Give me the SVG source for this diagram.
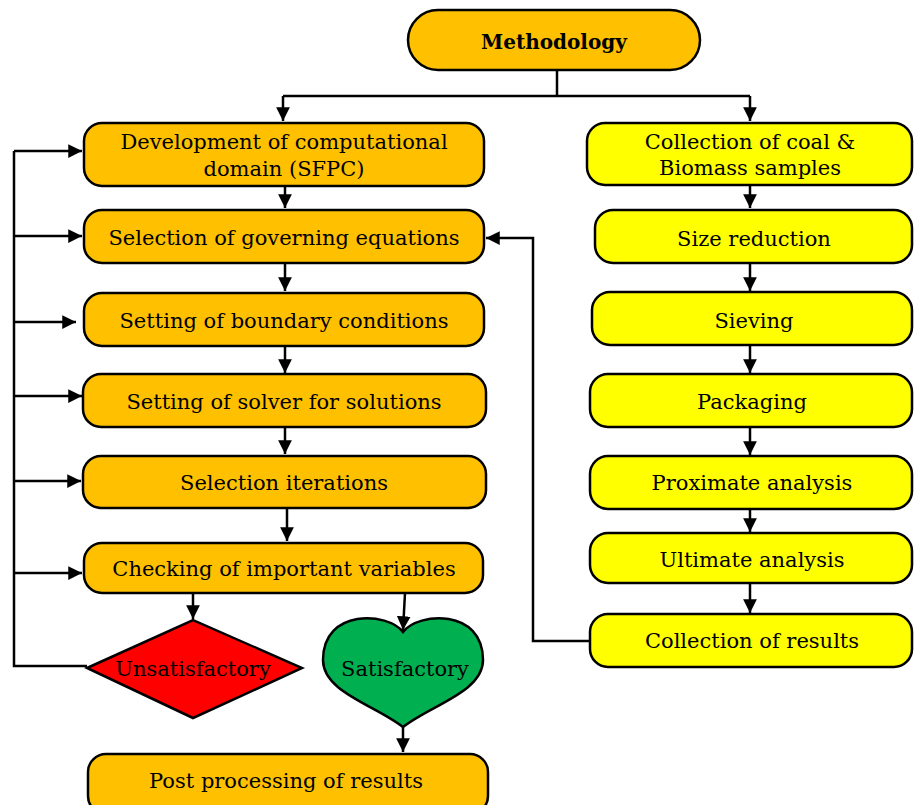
<svg xmlns="http://www.w3.org/2000/svg" width="914" height="805" viewBox="0 0 914 805">
<defs>
<marker id="ah" viewBox="0 0 10 10" refX="10" refY="5" markerWidth="5.5" markerHeight="5.5" orient="auto" markerUnits="strokeWidth">
<path d="M0,0 L10,5 L0,10 Z" fill="#000"/>
</marker>
<style>
.box{stroke:#000;stroke-width:2.5}
.o{fill:#FFC000}
.y{fill:#FFFF00}
.t{font-family:"DejaVu Serif","Liberation Serif",serif;font-size:21px;fill:#000;text-anchor:middle;dominant-baseline:central}
.b{font-weight:bold;font-size:20px}
.c{fill:none;stroke:#000;stroke-width:2.5}
.a{marker-end:url(#ah)}
</style>
</defs>
<rect width="914" height="805" fill="#fff"/>
<g id="connectors">
<path class="c" d="M557,70 V96 M283,96 H750"/>
<path class="c a" d="M283,96 V121"/>
<path class="c a" d="M750,96 V121"/>
<path class="c a" d="M285,186 V208"/>
<path class="c a" d="M285,263 V291"/>
<path class="c a" d="M285,346 V373"/>
<path class="c a" d="M285,427 V454"/>
<path class="c a" d="M287,508 V541"/>
<path class="c a" d="M193,593 V619"/>
<path class="c a" d="M405,593 L403,630"/>
<path class="c a" d="M403,727 V752"/>
<path class="c a" d="M750,185 V208"/>
<path class="c a" d="M750,263 V291"/>
<path class="c a" d="M750,345 V373"/>
<path class="c a" d="M750,427 V455"/>
<path class="c a" d="M750,509 V532"/>
<path class="c a" d="M750,583 V613"/>
<path class="c a" d="M590,641 H533 V238 H486"/>
<path class="c" d="M87,666 H14 V151"/>
<path class="c a" d="M14,151 H82"/>
<path class="c a" d="M14,236 H82"/>
<path class="c a" d="M14,322 H76"/>
<path class="c a" d="M14,396 H82"/>
<path class="c a" d="M14,481 H81"/>
<path class="c a" d="M14,573 H82"/>
</g>
<g id="methodology"><rect class="box o" x="408" y="10" width="292" height="60" rx="30"/><text class="t b" x="554" y="42">Methodology</text></g>
<g id="development"><rect class="box o" x="84" y="123" width="400" height="63" rx="18"/><text class="t" x="284" y="142">Development of computational</text><text class="t" x="284" y="169">domain (SFPC)</text></g>
<g id="governing"><rect class="box o" x="84" y="210" width="400" height="53" rx="18"/><text class="t" x="284" y="238">Selection of governing equations</text></g>
<g id="boundary"><rect class="box o" x="84" y="293" width="400" height="53" rx="18"/><text class="t" x="284" y="321">Setting of boundary conditions</text></g>
<g id="solver"><rect class="box o" x="83" y="374" width="403" height="53" rx="18"/><text class="t" x="284" y="402">Setting of solver for solutions</text></g>
<g id="iterations"><rect class="box o" x="83" y="456" width="403" height="52" rx="18"/><text class="t" x="284" y="483">Selection iterations</text></g>
<g id="checking"><rect class="box o" x="84" y="543" width="399" height="50" rx="18"/><text class="t" x="284" y="569">Checking of important variables</text></g>
<g id="unsatisfactory"><polygon class="box" fill="#FF0000" points="87,668 193,620 302,668 193,718"/><text class="t" x="193" y="669">Unsatisfactory</text></g>
<g id="satisfactory"><path class="box" fill="#00B050" d="M403,632 C388,612 323,608 323,660 C323,692 375,705 403,727 C431,705 483,692 483,660 C483,608 418,612 403,632 Z"/><text class="t" x="405" y="669">Satisfactory</text></g>
<g id="post"><rect class="box o" x="88" y="754" width="400" height="60" rx="18"/><text class="t" x="286" y="781">Post processing of results</text></g>
<g id="collection"><rect class="box y" x="587" y="123" width="325" height="62" rx="18"/><text class="t" x="750" y="142">Collection of coal &amp;</text><text class="t" x="750" y="168">Biomass samples</text></g>
<g id="size"><rect class="box y" x="595" y="210" width="317" height="53" rx="18"/><text class="t" x="754" y="239">Size reduction</text></g>
<g id="sieving"><rect class="box y" x="592" y="292" width="320" height="53" rx="18"/><text class="t" x="754" y="321">Sieving</text></g>
<g id="packaging"><rect class="box y" x="590" y="374" width="322" height="53" rx="18"/><text class="t" x="752" y="402">Packaging</text></g>
<g id="proximate"><rect class="box y" x="590" y="456" width="322" height="53" rx="18"/><text class="t" x="752" y="483">Proximate analysis</text></g>
<g id="ultimate"><rect class="box y" x="590" y="533" width="322" height="50" rx="18"/><text class="t" x="752" y="560">Ultimate analysis</text></g>
<g id="results"><rect class="box y" x="590" y="614" width="322" height="53" rx="18"/><text class="t" x="752" y="641">Collection of results</text></g>
</svg>
